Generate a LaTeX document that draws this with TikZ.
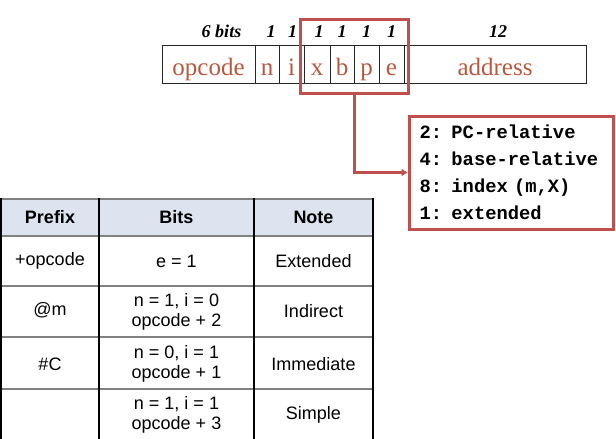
\documentclass[tikz,border=0pt]{standalone}
\usepackage{fontspec}
\setmainfont{Liberation Serif}
\newfontfamily\sansfnt{Liberation Sans}
\newfontfamily\monofnt{Liberation Mono}
\usetikzlibrary{positioning,arrows.meta}

\definecolor{selred}{HTML}{C0504D}
\definecolor{fieldtext}{HTML}{B9583F}
\definecolor{headfill}{HTML}{DDE4EF}
\definecolor{rulegray}{HTML}{808080}

\tikzset{
	cell/.style={draw=black!85, line width=1pt, minimum height=38pt, inner sep=0pt, outer sep=0pt,
		text height=23pt, text depth=1pt, text=fieldtext, font=\fontsize{25}{25}\selectfont},
	bitw/.style={anchor=base, inner sep=0pt, font=\fontsize{18}{18}\selectfont\bfseries\itshape},
	selbox/.style={draw=selred, line width=3pt},
	modebox/.style={selbox, align=left, text width=183pt, inner xsep=10.5pt, minimum height=113pt,
		font=\monofnt\bfseries\fontsize{18.8}{27}\selectfont},
	link/.style={draw=selred, line width=3pt, -{Triangle[length=6pt,width=7pt]}},
	hrule/.style={draw=rulegray, line width=2pt},
	vrule/.style={draw=black, line width=1.2pt},
	headtxt/.style={font=\sansfnt\bfseries\fontsize{18}{21}\selectfont},
	celltxt/.style={align=center, font=\sansfnt\fontsize{18}{20}\selectfont},
}

\begin{document}
\begin{tikzpicture}[x=1pt, y=-1pt]
	\useasboundingbox (0,0) rectangle (616,439);

	% instruction format
	\node[cell, minimum width=93pt, anchor=west] (opcode) at (162,64) {opcode};
	\node[cell, minimum width=24pt, right=0pt of opcode] (n) {n};
	\node[cell, minimum width=25pt, right=0pt of n] (i) {i};
	\node[cell, minimum width=26pt, right=0pt of i] (x) {x};
	\node[cell, minimum width=24pt, right=0pt of x] (b) {b};
	\node[cell, minimum width=25pt, right=0pt of b] (p) {p};
	\node[cell, minimum width=25pt, right=0pt of p] (e) {e};
	\node[cell, minimum width=182pt, right=0pt of e] (address) {address};

	\node[bitw] (wopcode) at ([xshift=13pt, yshift=8pt]opcode.north) {6 bits};
	\node[bitw] (wn) at ([xshift=4pt, yshift=8pt]n.north) {1};
	\node[bitw] (wi) at ([xshift=1pt, yshift=8pt]i.north) {1};
	\node[bitw] (wx) at ([xshift=2pt, yshift=8pt]x.north) {1};
	\node[bitw] (wb) at ([yshift=8pt]b.north) {1};
	\node[bitw] (wp) at ([yshift=8pt]p.north) {1};
	\node[bitw] (we) at ([yshift=8pt]e.north) {1};
	\node[bitw] (waddress) at ([xshift=3pt, yshift=8pt]address.north) {12};

	% xbpe flags
	\node[selbox, minimum width=108pt, minimum height=74pt] (sel) at (354,56) {};
	\node[modebox] (modes) at (511,172.5) {2: PC-relative\\4: base-relative\\8: index (m,X)\\1: extended};
	\draw[link] (sel.south) |- (modes.west);

	% addressing table
	\fill[headfill] (1,199) rectangle (373,236);
	\draw[hrule] (1,199) -- (373,199);
	\draw[hrule] (1,236) -- (373,236);
	\draw[hrule] (1,286) -- (373,286);
	\draw[hrule] (1,337) -- (373,337);
	\draw[hrule] (1,389) -- (373,389);
	\draw[vrule] (1,198) -- (1,439);
	\draw[vrule] (99,198) -- (99,439);
	\draw[vrule] (254,198) -- (254,439);
	\draw[vrule] (373,198) -- (373,439);

	\node[headtxt] (hprefix) at (50,217.5) {Prefix};
	\node[headtxt] (hbits) at (176.5,217.5) {Bits};
	\node[headtxt] (hnote) at (313.5,217.5) {Note};

	\node[celltxt] (prefix1) at (50,261) {+opcode};
	\node[celltxt] (bits1) at (176.5,261) {e = 1};
	\node[celltxt] (note1) at (313.5,261) {Extended};

	\node[celltxt] (prefix2) at (50,310) {@m};
	\node[celltxt] (bits2) at (176.5,311.5) {n = 1, i = 0\\opcode + 2};
	\node[celltxt] (note2) at (313.5,311.5) {Indirect};

	\node[celltxt] (prefix3) at (50,364) {\#C};
	\node[celltxt] (bits3) at (176.5,364) {n = 0, i = 1\\opcode + 1};
	\node[celltxt] (note3) at (313.5,364) {Immediate};

	\node[celltxt] (bits4) at (176.5,415) {n = 1, i = 1\\opcode + 3};
	\node[celltxt] (note4) at (313.5,415) {Simple};
\end{tikzpicture}
\end{document}
